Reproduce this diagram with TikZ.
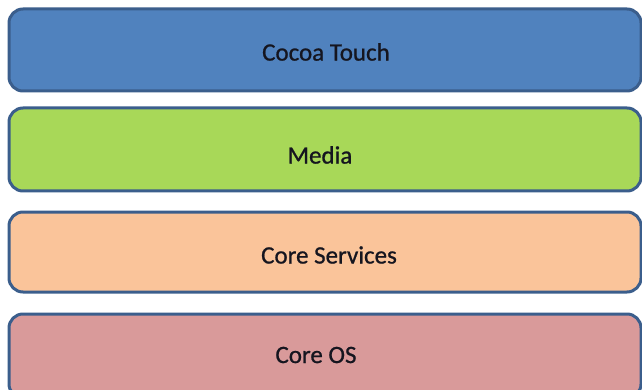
\documentclass[tikz,border=0pt]{standalone}
\usepackage{fontspec}
\setmainfont{Carlito}
\newfontfamily\lblfont[FakeBold=0.8]{Carlito}
\definecolor{edge}{HTML}{3B5E8C}
\definecolor{cblue}{HTML}{5082BE}
\definecolor{cgreen}{HTML}{A8D858}
\definecolor{cpeach}{HTML}{FAC49A}
\definecolor{cpink}{HTML}{D99A9A}
\definecolor{txt}{HTML}{15151F}
\tikzset{
  layer/.style={draw=edge, line width=3pt, rounded corners=14pt},
  lbl/.style={text=txt, font=\lblfont\fontsize{25}{29}\selectfont, inner sep=0pt}
}
\begin{document}
\begin{tikzpicture}[x=1pt,y=1pt]
\useasboundingbox (0,0) rectangle (642,-390);
\clip (0,0) rectangle (642,-390);
\fill[white] (0,0) rectangle (642,-390);
\draw[layer, fill=cblue] (9,-9) rectangle (641,-91);
\draw[layer, fill=cgreen] (9,-108) rectangle (641,-191);
\draw[layer, fill=cpeach] (9,-212) rectangle (641,-292);
\draw[layer, fill=cpink] (9,-314) rectangle (641,-398);
\node[lbl] (ct) at (326,-52) {Cocoa Touch};
\node[lbl] (me) at (320,-155) {Media};
\node[lbl] (cs) at (329,-255) {Core Services};
\node[lbl] (co) at (316,-355) {Core OS};
\end{tikzpicture}
\end{document}
